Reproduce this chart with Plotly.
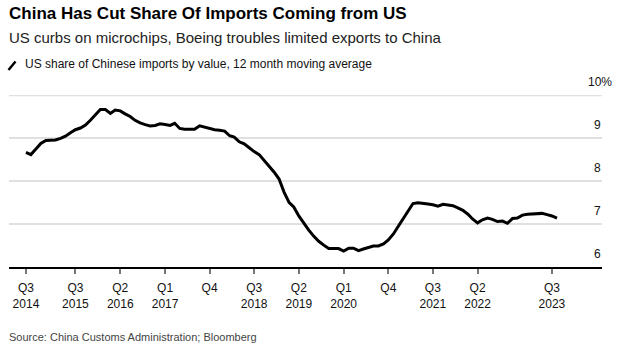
import plotly.graph_objects as go
import pandas as pd

# US share of Chinese imports by value, 12 month moving average (%), monthly Sep 2014 - Aug 2023
start_month = "2014-09-01"
share = [
    8.67, 8.62, 8.75, 8.88, 8.95, 8.95, 8.96, 9.00, 9.05, 9.13, 9.20, 9.24,
    9.31, 9.42, 9.56, 9.67, 9.67, 9.58, 9.66, 9.64, 9.57, 9.51, 9.42, 9.36,
    9.32, 9.29, 9.30, 9.34, 9.32, 9.30, 9.35, 9.23, 9.21, 9.21, 9.21, 9.29,
    9.26, 9.23, 9.20, 9.19, 9.17, 9.06, 9.03, 8.92, 8.87, 8.78, 8.69, 8.62,
    8.49, 8.35, 8.21, 8.05, 7.74, 7.50, 7.40, 7.19, 7.02, 6.86, 6.72, 6.60,
    6.51, 6.43, 6.43, 6.43, 6.37, 6.44, 6.44, 6.38, 6.42, 6.45, 6.49, 6.49,
    6.54, 6.63, 6.77, 6.95, 7.13, 7.32, 7.48, 7.50, 7.49, 7.47, 7.45, 7.42,
    7.46, 7.44, 7.43, 7.38, 7.32, 7.23, 7.12, 7.03, 7.10, 7.14, 7.11, 7.06,
    7.07, 7.02, 7.13, 7.14, 7.21, 7.23, 7.24, 7.24, 7.25, 7.22, 7.19, 7.14,
]
months = pd.date_range(start_month, periods=len(share), freq="MS")

x_tick_dates = ["2014-09-01", "2015-07-01", "2016-04-01", "2017-01-01", "2017-10-01",
                "2018-07-01", "2019-04-01", "2020-01-01", "2020-10-01", "2021-07-01",
                "2022-04-01", "2023-07-01"]
x_tick_labels = ["Q3<br>2014", "Q3<br>2015", "Q2<br>2016", "Q1<br>2017", "Q4",
                 "Q3<br>2018", "Q2<br>2019", "Q1<br>2020", "Q4", "Q3<br>2021",
                 "Q2<br>2022", "Q3<br>2023"]
y_tick_vals = [6, 7, 8, 9, 10]
y_tick_labels = ["6", "7", "8", "9", "10%"]

title = "China Has Cut Share Of Imports Coming from US"
subtitle = "US curbs on microchips, Boeing troubles limited exports to China"
legend_text = "US share of Chinese imports by value, 12 month moving average"
source = "Source: China Customs Administration; Bloomberg"

W, H = 621, 351
ML, MR, MT, MB = 9, 19, 95, 84.3
PW, PH = W - ML - MR, H - MT - MB
FONT = "Liberation Sans, Arial, sans-serif"
GRID = "#e0e0e0"


def px(xp):
    return (xp - ML) / PW


def py(yp):
    return (H - MB - yp) / PH


fig = go.Figure()
fig.add_trace(go.Scatter(
    x=months, y=share, mode="lines",
    line=dict(color="#000000", width=3),
    hoverinfo="skip", showlegend=False,
))

y_range = [6, 10.01]
fig.update_layout(
    width=W, height=H,
    margin=dict(l=ML, r=MR, t=MT, b=MB, pad=0),
    paper_bgcolor="white", plot_bgcolor="white",
    font=dict(family=FONT, color="#000"),
    xaxis=dict(
        type="date",
        range=["2014-05-20", "2024-05-03"],
        tickvals=x_tick_dates, ticktext=x_tick_labels,
        ticks="outside", ticklen=5, tickwidth=1.5, tickcolor="#777",
        ticklabelstandoff=4,
        showline=True, linecolor="#000", linewidth=1.5,
        showgrid=False, zeroline=False,
        tickfont=dict(size=12, color="#111"),
        fixedrange=True,
    ),
    yaxis=dict(
        range=y_range, side="right",
        tickvals=y_tick_vals, showticklabels=False, ticks="",
        showgrid=True, gridcolor=GRID, gridwidth=1.5,
        zeroline=False, showline=False,
        fixedrange=True,
    ),
)

# top gridline (Plotly drops a gridline lying on the plot edge)
fig.add_shape(type="line", xref="paper", yref="y", x0=0, x1=1,
              y0=y_tick_vals[-1], y1=y_tick_vals[-1],
              line=dict(color=GRID, width=1.5), layer="below")

# y-axis labels sitting above their gridlines, numbers right-aligned at plot edge
for v, lab in zip(y_tick_vals, y_tick_labels):
    extra = 11 if lab.endswith("%") else 0
    fig.add_annotation(
        text=lab, x=px(603 + extra), y=v, xref="paper", yref="y",
        xanchor="right", yanchor="middle", yshift=13, showarrow=False,
        font=dict(size=12, color="#111", family=FONT),
    )

annots = [
    dict(text=f"<b>{title}</b>", x=px(7), y=py(14), size=17, color="#000"),
    dict(text=subtitle, x=px(7), y=py(38), size=15, color="#222"),
    dict(text=legend_text, x=px(23), y=py(64.5), size=12, color="#111"),
    dict(text=source, x=px(7), y=py(337), size=11, color="#444"),
]
for a in annots:
    fig.add_annotation(
        text=a["text"], x=a["x"], y=a["y"], xref="paper", yref="paper",
        xanchor="left", yanchor="middle", showarrow=False,
        font=dict(size=a["size"], color=a["color"], family=FONT),
    )

# legend swatch (diagonal line)
fig.add_shape(type="line", xref="paper", yref="paper",
              x0=px(8.5), y0=py(70), x1=px(15.5), y1=py(61.5),
              line=dict(color="#000", width=2.5))

fig.write_html("out.html")
